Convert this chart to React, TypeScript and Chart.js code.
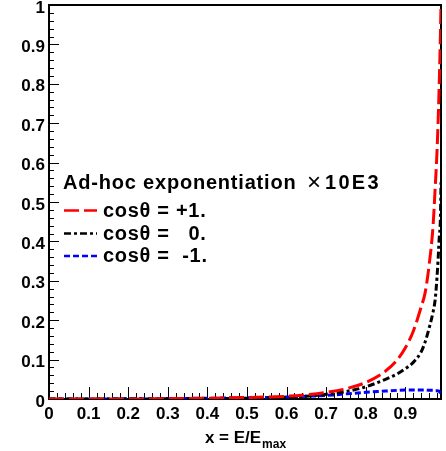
import { useEffect, useRef } from "react";
import { Chart, registerables } from "chart.js";

Chart.register(...registerables);

// x = E/Emax sampling points shared by all three curves
const xValues = [
  0, 0.1, 0.2, 0.3, 0.4, 0.5, 0.6, 0.65, 0.7, 0.75, 0.8, 0.85, 0.88, 0.9,
  0.92, 0.94, 0.95, 0.96, 0.97, 0.975, 0.98, 0.985, 0.99, 0.993,
];

// Spectrum for cosθ = +1
const cosPlusOne = [
  0, 0, 0, 0.001, 0.002, 0.004, 0.007, 0.011, 0.017, 0.026, 0.042, 0.071, 0.1,
  0.13, 0.172, 0.234, 0.27, 0.34, 0.44, 0.53, 0.63, 0.78, 1.0, 1.2,
];

// Spectrum for cosθ = 0
const cosZero = [
  0, 0, 0, 0.0005, 0.001, 0.002, 0.004, 0.007, 0.012, 0.019, 0.031, 0.05,
  0.064, 0.077, 0.093, 0.12, 0.145, 0.18, 0.221, 0.25, 0.31, 0.4, 0.55, 1.05,
];

// Spectrum for cosθ = -1
const cosMinusOne = [
  0, 0, 0.0005, 0.001, 0.002, 0.003, 0.005, 0.007, 0.009, 0.013, 0.017, 0.02,
  0.022, 0.023, 0.023, 0.023, 0.023, 0.022, 0.022, 0.021, 0.021, 0.02, 0.012,
  0.004,
];

const seriesLabels = ["cosθ = +1.", "cosθ =   0.", "cosθ =  -1."];
const legendHeader = "Ad-hoc exponentiation";
const legendFactor = "10E3";

const xTickValues = [0, 0.1, 0.2, 0.3, 0.4, 0.5, 0.6, 0.7, 0.8, 0.9];
const yTickValues = [0, 0.1, 0.2, 0.3, 0.4, 0.5, 0.6, 0.7, 0.8, 0.9, 1];
const X_MAX = 0.99;
const MINOR_DIVISIONS = 5;

const FAMILY = '"Liberation Sans", Arial, Helvetica, sans-serif';

const fmt = (v: number) => (v === 0 ? "0" : v === 1 ? "1" : v.toFixed(1));

const toPoints = (ys: number[]) => xValues.map((x, i) => ({ x, y: ys[i] }));

// Frame plus ROOT-style inward ticks (major and minor) on the left and bottom axes
const frameTicks = {
  id: "frameTicks",
  beforeDatasetsDraw(chart: any) {
    const { ctx, chartArea: a, scales } = chart;
    const xs = scales.x;
    const ys = scales.y;
    ctx.save();
    ctx.strokeStyle = "#000";
    ctx.lineWidth = 1;
    ctx.beginPath();
    const xStep = xTickValues[1] - xTickValues[0];
    for (let i = 0; ; i++) {
      const v = (i * xStep) / MINOR_DIVISIONS;
      if (v > X_MAX + 1e-9) break;
      const major = i % MINOR_DIVISIONS === 0;
      const px = Math.round(xs.getPixelForValue(v)) + 0.5;
      ctx.moveTo(px, a.bottom);
      ctx.lineTo(px, a.bottom - (major ? 12 : 6));
    }
    const yStep = yTickValues[1] - yTickValues[0];
    const yMax = yTickValues[yTickValues.length - 1];
    for (let i = 0; ; i++) {
      const v = (i * yStep) / MINOR_DIVISIONS;
      if (v > yMax + 1e-9) break;
      const major = i % MINOR_DIVISIONS === 0;
      const py = Math.round(ys.getPixelForValue(v)) + 0.5;
      ctx.moveTo(a.left, py);
      ctx.lineTo(a.left + (major ? 10 : 5), py);
    }
    ctx.stroke();
    ctx.lineWidth = 2;
    ctx.strokeRect(a.left, a.top, a.right - a.left, a.bottom - a.top);
    ctx.restore();
  },
};

// Axis title with subscript, and the in-plot legend
const annotations = {
  id: "annotations",
  afterDraw(chart: any) {
    const { ctx, chartArea: a } = chart;
    ctx.save();
    ctx.fillStyle = "#000";
    ctx.textBaseline = "alphabetic";
    ctx.textAlign = "left";

    // x-axis title: x = E/E_max
    const mainText = "x = E/E";
    const subText = "max";
    ctx.font = `bold 17px ${FAMILY}`;
    const wMain = ctx.measureText(mainText).width;
    ctx.font = `bold 12px ${FAMILY}`;
    const wSub = ctx.measureText(subText).width;
    const cx = (a.left + a.right) / 2;
    const tx = cx - (wMain + wSub) / 2;
    ctx.font = `bold 17px ${FAMILY}`;
    ctx.fillText(mainText, tx, a.bottom + 44);
    ctx.font = `bold 12px ${FAMILY}`;
    ctx.fillText(subText, tx + wMain + 1, a.bottom + 49);

    // Legend header
    const lx = a.left + 14;
    const headerY = a.top + 184;
    ctx.font = `bold 20px ${FAMILY}`;
    (ctx as any).letterSpacing = "0.8px";
    ctx.fillText(legendHeader, lx, headerY);
    (ctx as any).letterSpacing = "0px";
    ctx.font = `24px ${FAMILY}`;
    ctx.textAlign = "center";
    ctx.fillText("×", lx + 251, headerY + 1);
    ctx.textAlign = "left";
    ctx.font = `bold 20px ${FAMILY}`;
    (ctx as any).letterSpacing = "2.3px";
    ctx.fillText(legendFactor, lx + 262, headerY);

    // Legend entries
    const rowY = [a.top + 211.5, a.top + 234.5, a.top + 257];
    chart.data.datasets.forEach((ds: any, i: number) => {
      const y = rowY[i];
      ctx.save();
      ctx.strokeStyle = ds.borderColor;
      ctx.lineWidth = 2.5;
      ctx.setLineDash(ds.borderDash || []);
      ctx.beginPath();
      ctx.moveTo(lx + 1, y - 6);
      ctx.lineTo(lx + 34, y - 6);
      ctx.stroke();
      ctx.restore();
      ctx.font = `bold 20px ${FAMILY}`;
      (ctx as any).letterSpacing = "0.7px";
      ctx.fillText(ds.label, lx + 40, y);
    });
    (ctx as any).letterSpacing = "0px";
    ctx.restore();
  },
};

export default function App() {
  const canvasRef = useRef<HTMLCanvasElement | null>(null);

  useEffect(() => {
    if (!canvasRef.current) return;
    const tickFont = { family: FAMILY, size: 17, weight: "bold" as const };
    const line = (label: string, ys: number[], color: string, dash: number[]) => ({
      label,
      data: toPoints(ys),
      borderColor: color,
      backgroundColor: color,
      borderWidth: 3,
      borderDash: dash,
      pointRadius: 0,
      fill: false,
      cubicInterpolationMode: "monotone" as const,
    });
    const chart = new Chart(canvasRef.current, {
      type: "line",
      data: {
        datasets: [
          line(seriesLabels[0], cosPlusOne, "#ff0000", [15, 5]),
          line(seriesLabels[1], cosZero, "#000000", [7, 3, 3, 3]),
          line(seriesLabels[2], cosMinusOne, "#0000ff", [6, 3]),
        ],
      },
      options: {
        animation: false,
        responsive: false,
        maintainAspectRatio: false,
        layout: { padding: { top: 5, right: 5, left: 0, bottom: 0 } },
        plugins: {
          legend: { display: false },
          tooltip: { enabled: false },
          title: { display: false },
        },
        scales: {
          x: {
            type: "linear",
            min: 0,
            max: X_MAX,
            grid: { display: false, drawTicks: false },
            border: { display: false },
            ticks: {
              font: tickFont,
              color: "#000",
              padding: 5,
              maxRotation: 0,
              autoSkip: false,
              callback: (v: any) => fmt(Number(v)),
            },
            afterBuildTicks: (s: any) => {
              s.ticks = xTickValues.map((value) => ({ value }));
            },
            afterFit: (s: any) => {
              s.height = 52;
              s.paddingLeft = 0;
              s.paddingRight = 0;
            },
          },
          y: {
            type: "linear",
            min: 0,
            max: 1,
            grid: { display: false, drawTicks: false },
            border: { display: false },
            ticks: {
              font: tickFont,
              color: "#000",
              padding: 4,
              labelOffset: 3,
              autoSkip: false,
              callback: (v: any) => fmt(Number(v)),
            },
            afterBuildTicks: (s: any) => {
              s.ticks = yTickValues.map((value) => ({ value }));
            },
            afterFit: (s: any) => {
              s.width = 49;
              s.paddingTop = 0;
              s.paddingBottom = 0;
            },
          },
        },
      },
      plugins: [frameTicks, annotations],
    });
    return () => chart.destroy();
  }, []);

  return (
    <div style={{ position: "fixed", left: 0, top: 0, width: 446, height: 451, background: "#fff" }}>
      <canvas ref={canvasRef} width={446} height={451} style={{ display: "block" }} />
    </div>
  );
}
